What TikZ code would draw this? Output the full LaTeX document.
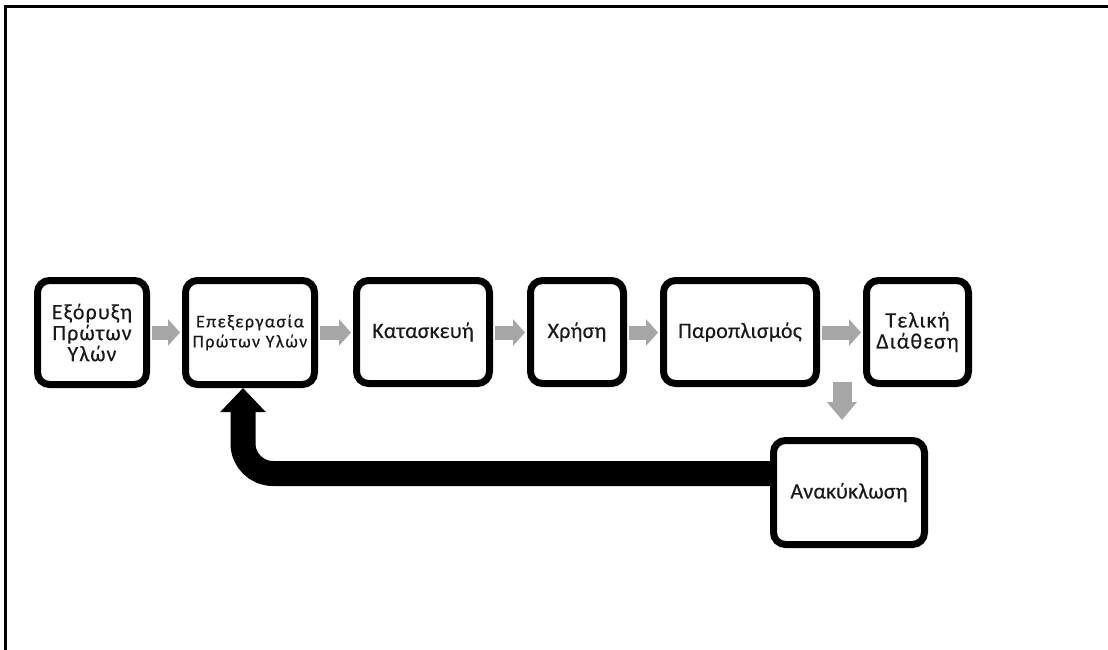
\documentclass[tikz,border=0pt]{standalone}
\usepackage{fontspec}
\setmainfont{Carlito}
\newfontfamily\boxfont[LetterSpace=1,FakeBold=0.3]{Carlito}
\newfontfamily\widefont[LetterSpace=5,FakeBold=0.3]{Carlito}
\newfontfamily\smallwidefont[LetterSpace=8,FakeBold=0.3]{Carlito}
\usetikzlibrary{arrows.meta,shadows,calc}
\begin{document}
\begin{tikzpicture}[x=1pt,y=-1pt,
  stagebox/.style={draw=black, line width=7pt, rounded corners=12pt, fill=white,
    align=center, inner sep=0pt, text=black!90,
    font=\boxfont\fontsize{22}{21}\selectfont,
    drop shadow={opacity=0.18, shadow xshift=2pt, shadow yshift=-3pt}},
  grayarrow/.style={draw=black!35, line width=14pt,
    -{Triangle[width=26pt,length=12pt]}, shorten <=2pt, shorten >=2pt},
  backarrow/.style={draw=black, line width=25pt, rounded corners=30pt,
    -{Triangle[width=44pt,length=24pt]}}]
\useasboundingbox (0,0) rectangle (1108,650);
\draw[line width=2.5pt] (1108,6.5) -- (5.5,6.5) -- (5.5,650);

\node[stagebox, minimum width=109pt, minimum height=104pt, font=\widefont\fontsize{22}{21}\selectfont] (b1) at (92,332.5) {Εξόρυξη\\Πρώτων\\Υλών};
\node[stagebox, minimum width=129pt, minimum height=104pt, font=\smallwidefont\fontsize{18}{20}\selectfont] (b2) at (250,332.5) {Επεξεργασία\\Πρώτων Υλών};
\node[stagebox, minimum width=133pt, minimum height=103pt] (b3) at (423,332) {Κατασκευή};
\node[stagebox, minimum width=93pt, minimum height=103pt] (b4) at (577,332) {Χρήση};
\node[stagebox, minimum width=153pt, minimum height=103pt] (b5) at (740,332) {Παροπλισμός};
\node[stagebox, minimum width=102pt, minimum height=103pt, font=\widefont\fontsize{22}{21}\selectfont] (b6) at (917.5,332) {Τελική\\Διάθεση};
\node[stagebox, minimum width=151pt, minimum height=104pt] (b7) at (849,492.5) {Ανακύκλωση};

\draw[grayarrow] (b1.east |- 0,332.5) -- (b2.west |- 0,332.5);
\draw[grayarrow] (b2.east |- 0,332.5) -- (b3.west |- 0,332.5);
\draw[grayarrow] (b3.east |- 0,332.5) -- (b4.west |- 0,332.5);
\draw[grayarrow] (b4.east |- 0,332.5) -- (b5.west |- 0,332.5);
\draw[grayarrow] (b5.east |- 0,332.5) -- (b6.west |- 0,332.5);

\coordinate (dtop) at (842,382);
\coordinate (dbot) at (842,420);
\draw[grayarrow, line width=19pt, -{Triangle[width=29pt,length=18pt]}, shorten <=0pt, shorten >=0pt] (dtop) -- (dbot);

\coordinate (bstart) at ($(b7.west)+(0,-19)$);
\coordinate (bend) at ($(b2.south)+(-7,0)$);
\draw[backarrow] (bstart) -- (bend |- bstart) -- (bend);
\end{tikzpicture}
\end{document}
